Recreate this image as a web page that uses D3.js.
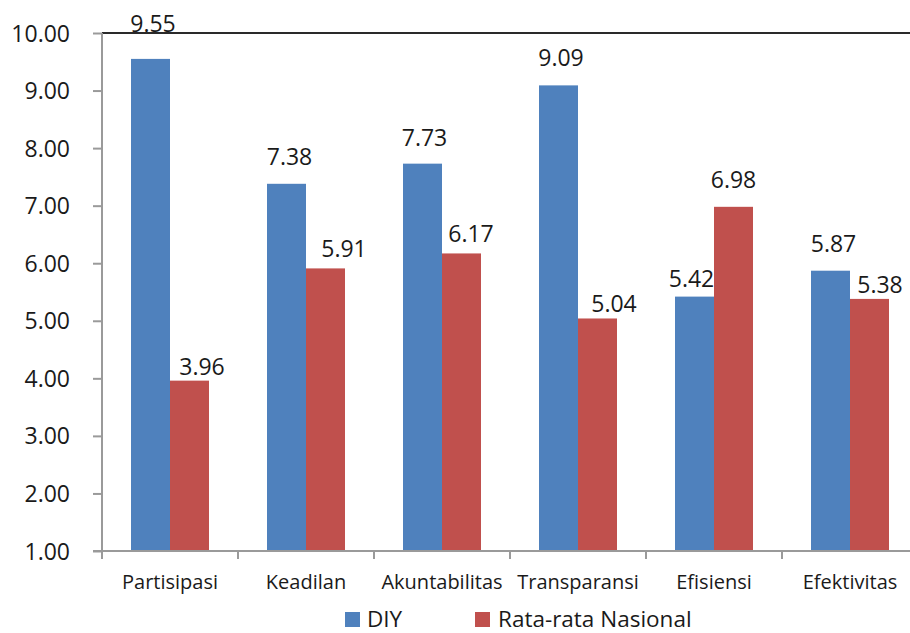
<!DOCTYPE html>
<html>
<head>
<meta charset="utf-8">
<script src="https://cdn.jsdelivr.net/npm/d3@7"></script>
<style>
  html, body { margin: 0; padding: 0; background: #fff; }
  svg { display: block; font-family: "Open Sans", "Noto Sans", sans-serif; }
</style>
</head>
<body>
<svg id="chart" width="910" height="633"></svg>
<script>
// Indeks tata kelola per aspek: DIY vs rata-rata nasional
const categories = ["Partisipasi", "Keadilan", "Akuntabilitas", "Transparansi", "Efisiensi", "Efektivitas"];
const seriesNames = ["DIY", "Rata-rata Nasional"];
const diyValues = [9.55, 7.38, 7.73, 9.09, 5.42, 5.87];
const nasionalValues = [3.96, 5.91, 6.17, 5.04, 6.98, 5.38];
const yTicks = [1, 2, 3, 4, 5, 6, 7, 8, 9, 10];

// Hand-placed label nudges (dx from bar centre, gap above bar top)
const labelNudgeDiy = [[2.5, 19], [3, 19], [2, 18], [2.5, 19], [-3, 10], [3, 19]];
const labelNudgeNas = [[12.5, 6], [18.5, 11], [9.5, 11], [16.5, 6], [0, 19], [10.5, 6]];

const colors = ["#4F81BD", "#C0504D"];
const svg = d3.select("#chart");

const plot = { left: 102, top: 33, bottom: 551, groupWidth: 136 };
plot.right = plot.left + plot.groupWidth * categories.length;

const x0 = d3.scaleBand().domain(categories).range([plot.left, plot.right]).padding(0);
const x1 = d3.scaleBand().domain(seriesNames).range([29, 107]).padding(0);
const y = d3.scaleLinear().domain([1, 10]).range([plot.bottom, plot.top]);

const series = [diyValues, nasionalValues];
const nudges = [labelNudgeDiy, labelNudgeNas];

// Bars
series.forEach((vals, si) => {
  svg.append("g").selectAll("rect")
    .data(vals)
    .join("rect")
    .attr("x", (d, i) => x0(categories[i]) + x1(seriesNames[si]))
    .attr("y", d => y(d))
    .attr("width", x1.bandwidth())
    .attr("height", d => y(1) - y(d))
    .attr("fill", colors[si]);
});

// Frame line along the top of the plot
svg.append("line")
  .attr("x1", plot.left).attr("x2", 910)
  .attr("y1", y(10)).attr("y2", y(10))
  .attr("stroke", "#2a2a2a").attr("stroke-width", 2);

// Y axis
const yAxis = d3.axisLeft(y)
  .tickValues(yTicks)
  .tickFormat(d3.format(".2f"))
  .tickSize(9)
  .tickPadding(0);
const gy = svg.append("g").attr("transform", `translate(${plot.left},0)`).call(yAxis);
gy.select(".domain").attr("stroke", "#9a9a9a").attr("stroke-width", 2)
  .attr("d", `M0,${plot.top}V${plot.bottom + 8}`);
gy.selectAll(".tick line").attr("stroke", "#9a9a9a").attr("stroke-width", 2);
gy.selectAll(".tick text")
  .attr("x", -32)
  .attr("dy", null)
  .attr("y", 8)
  .attr("fill", "#1a1a1a")
  .attr("font-size", 23)
  .attr("font-family", "'Open Sans', sans-serif");

// X axis with ticks at group boundaries
const gx = svg.append("g");
gx.append("line")
  .attr("x1", plot.left - 9).attr("x2", plot.right)
  .attr("y1", plot.bottom).attr("y2", plot.bottom)
  .attr("stroke", "#9a9a9a").attr("stroke-width", 2);
gx.selectAll("line.bt")
  .data(d3.range(categories.length + 1))
  .join("line")
  .attr("class", "bt")
  .attr("x1", i => plot.left + i * x0.bandwidth())
  .attr("x2", i => plot.left + i * x0.bandwidth())
  .attr("y1", plot.bottom).attr("y2", plot.bottom + 8)
  .attr("stroke", "#9a9a9a").attr("stroke-width", 2);
gx.selectAll("text")
  .data(categories)
  .join("text")
  .attr("x", d => x0(d) + x0.bandwidth() / 2)
  .attr("y", 589)
  .attr("text-anchor", "middle")
  .attr("fill", "#1a1a1a")
  .attr("font-size", 20)
  .text(d => d);

// Value labels; a label that would cross the top frame sits just above it
series.forEach((vals, si) => {
  svg.append("g").selectAll("text")
    .data(vals)
    .join("text")
    .attr("x", (d, i) => x0(categories[i]) + x1(seriesNames[si]) + x1.bandwidth() / 2 + nudges[si][i][0])
    .attr("y", (d, i) => {
      const base = y(d) - nudges[si][i][1];
      return (base - 17 < plot.top && base > plot.top) ? plot.top - 1 : base;
    })
    .attr("text-anchor", "middle")
    .attr("fill", "#1a1a1a")
    .attr("font-size", 23)
    .text(d => d3.format(".2f")(d));
});

// Legend
const legend = svg.append("g");
const legendItems = [
  { name: seriesNames[0], color: colors[0], x: 345, tx: 367 },
  { name: seriesNames[1], color: colors[1], x: 475, tx: 498 }
];
legendItems.forEach(it => {
  legend.append("rect")
    .attr("x", it.x).attr("y", 612)
    .attr("width", 15).attr("height", 15)
    .attr("fill", it.color);
  legend.append("text")
    .attr("x", it.tx).attr("y", 627)
    .attr("fill", "#1a1a1a")
    .attr("font-size", 22.5)
    .text(it.name);
});
</script>
</body>
</html>
